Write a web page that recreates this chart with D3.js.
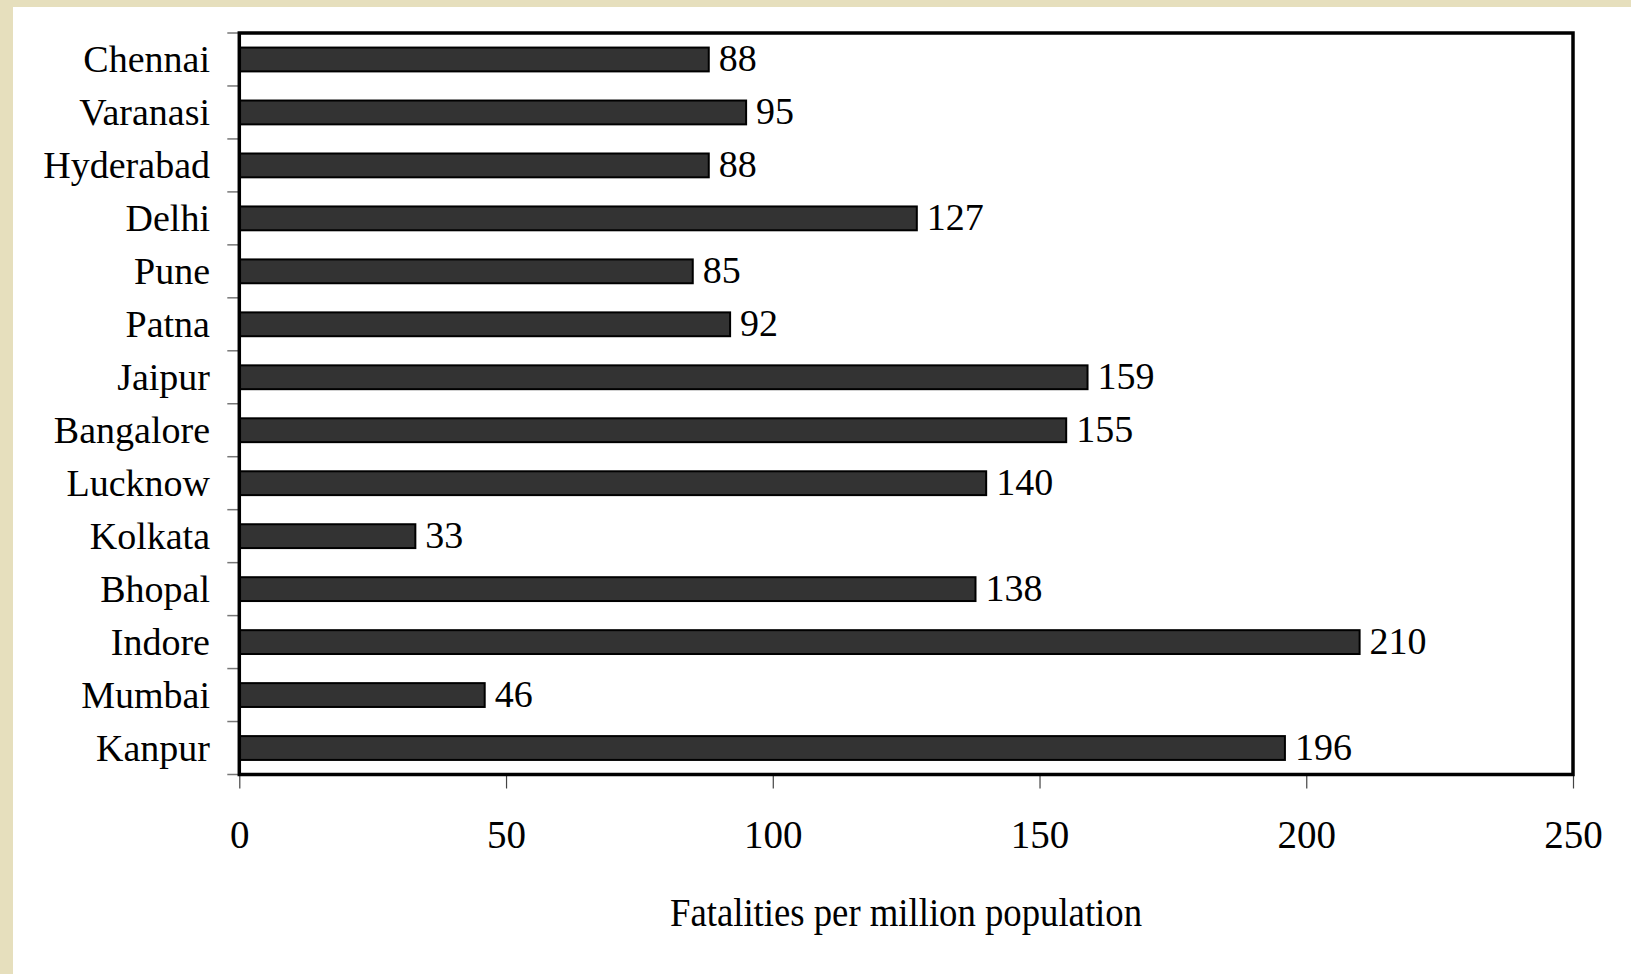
<!DOCTYPE html>
<html>
<head>
<meta charset="utf-8">
<script src="https://cdn.jsdelivr.net/npm/d3@7"></script>
<style>
  html, body { margin: 0; padding: 0; background: #e6dfbd; }
  svg { display: block; }
  text { font-family: "Times New Roman", Times, "Liberation Serif", serif; }
</style>
</head>
<body>
<svg id="chart" width="1631" height="974"></svg>
<script>
const categories = ["Chennai","Varanasi","Hyderabad","Delhi","Pune","Patna","Jaipur","Bangalore","Lucknow","Kolkata","Bhopal","Indore","Mumbai","Kanpur"];
const values = [88, 95, 88, 127, 85, 92, 159, 155, 140, 33, 138, 210, 46, 196];
const xTicks = [0, 50, 100, 150, 200, 250];
const xTitle = "Fatalities per million population";

const svg = d3.select("#chart");
const font = "Times New Roman, Times, Liberation Serif, serif";

// white panel
svg.append("rect").attr("x", 13).attr("y", 7).attr("width", 1631 - 13).attr("height", 974 - 7).attr("fill", "#ffffff");

const pLeft = 239.3, pRight = 1573, pTop = 33, pBottom = 774.5;
const x = d3.scaleLinear().domain([0, 250]).range([pLeft, pRight]);
const y = d3.scaleBand().domain(categories).range([pTop, pBottom]).paddingInner(0.55).paddingOuter(0.275);

// y ticks at band boundaries
const bounds = d3.range(categories.length + 1).map(i => pTop + i * (pBottom - pTop) / categories.length);
svg.append("g").selectAll("line").data(bounds).join("line")
  .attr("x1", pLeft - 12).attr("x2", pLeft)
  .attr("y1", d => d).attr("y2", d => d)
  .attr("stroke", "#777").attr("stroke-width", 1.5);

// x axis ticks
const xAxis = d3.axisBottom(x).tickValues(xTicks).tickSize(14).tickPadding(0).tickFormat(d3.format("d"));
const gx = svg.append("g").attr("transform", `translate(0,${pBottom})`).call(xAxis);
gx.select(".domain").remove();
gx.selectAll(".tick line").attr("stroke", "#444").attr("stroke-width", 1.2);
gx.selectAll(".tick text").attr("y", 848 - pBottom).attr("dy", null)
  .attr("font-family", font).attr("font-size", 39).attr("fill", "#000");

// bars
svg.append("g").selectAll("rect").data(values).join("rect")
  .attr("x", x(0))
  .attr("y", (d, i) => y(categories[i]))
  .attr("width", d => x(d) - x(0))
  .attr("height", y.bandwidth())
  .attr("fill", "#333333")
  .attr("stroke", "#000")
  .attr("stroke-width", 2);

// value labels
svg.append("g").selectAll("text").data(values).join("text")
  .attr("x", d => x(d) + 10)
  .attr("y", (d, i) => y(categories[i]) + y.bandwidth() / 2 + 12)
  .attr("font-family", font).attr("font-size", 38).attr("fill", "#000")
  .text(d => d);

// category labels
svg.append("g").selectAll("text").data(categories).join("text")
  .attr("x", 210)
  .attr("y", d => y(d) + y.bandwidth() / 2 + 13)
  .attr("text-anchor", "end")
  .attr("font-family", font).attr("font-size", 38).attr("fill", "#000")
  .text(d => d);

// frame
svg.append("rect").attr("x", pLeft).attr("y", pTop).attr("width", pRight - pLeft).attr("height", pBottom - pTop)
  .attr("fill", "none").attr("stroke", "#000").attr("stroke-width", 3.5);

// axis title
svg.append("text").attr("x", 906).attr("y", 926).attr("text-anchor", "middle")
  .attr("font-family", font).attr("font-size", 39).attr("fill", "#000")
  .attr("textLength", 472).attr("lengthAdjust", "spacingAndGlyphs")
  .text(xTitle);
</script>
</body>
</html>
